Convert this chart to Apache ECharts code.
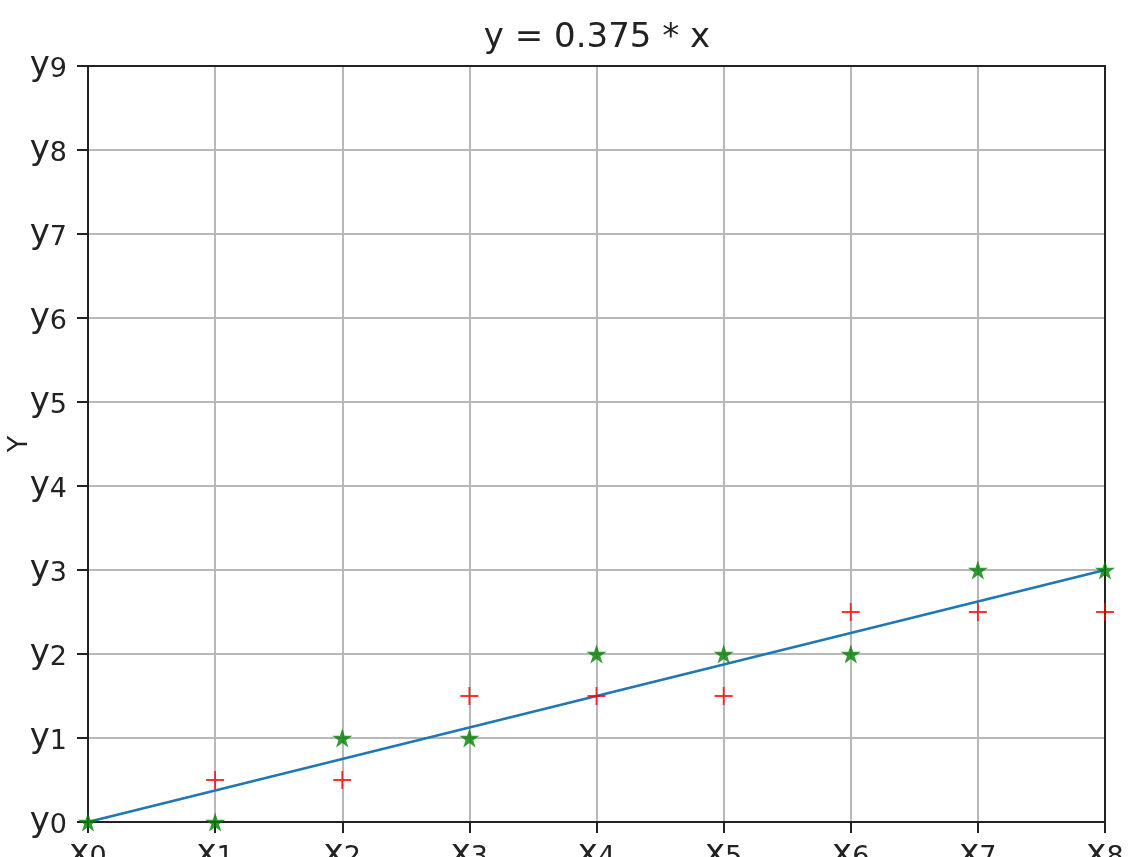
<!DOCTYPE html>
<html>
<head>
<meta charset="utf-8">
<script src="https://cdn.jsdelivr.net/npm/echarts@6/dist/echarts.min.js"></script>
<style>html,body{margin:0;padding:0;background:#fff}#c{width:1143px;height:857px}</style>
</head>
<body>
<div id="c"></div>
<script>
const titleText = 'y = 0.375 * x';
const xValues = [0, 1, 2, 3, 4, 5, 6, 7, 8];
const lineY = [0, 0.375, 0.75, 1.125, 1.5, 1.875, 2.25, 2.625, 3];
const greenX = [0, 1, 2, 3, 4, 5, 6, 7, 8];
const greenY = [0, 0, 1, 1, 2, 2, 2, 3, 3];
const redX = [1, 2, 3, 4, 5, 6, 7, 8];
const redY = [0.5, 0.5, 1.5, 1.5, 1.5, 2.5, 2.5, 2.5];
const xTickLabels = ['x0','x1','x2','x3','x4','x5','x6','x7','x8'];
const yTickLabels = ['y0','y1','y2','y3','y4','y5','y6','y7','y8','y9'];
const yAxisName = 'Y';

const starPath = 'path://M50,0 L61.23,34.55 L97.55,34.55 L68.17,55.9 L79.39,90.45 L50,69.1 L20.61,90.45 L31.83,55.9 L2.45,34.55 L38.77,34.55 Z';
const plusPath = 'path://M4.5,0h1v4.5h4.5v1h-4.5v4.5h-1v-4.5h-4.5v-1h4.5z';

function sub(label) {
  return '{a|' + label.charAt(0) + '}{b|' + label.slice(1) + '}';
}
const rich = {
  a: {fontSize: 34, lineHeight: 36, color: '#222', fontFamily: 'DejaVu Sans'},
  b: {fontSize: 27, lineHeight: 27, padding: [8, 0, 0, 0], color: '#222', fontFamily: 'DejaVu Sans'}
};

const axisLineStyle = {color: '#222', width: 2};

const chart = echarts.init(document.getElementById('c'), null, {renderer: 'canvas'});
chart.setOption({
  animation: false,
  backgroundColor: '#fff',
  title: {
    text: titleText, left: 592, textAlign: 'center', top: 16,
    textStyle: {fontSize: 34, fontWeight: 'normal', color: '#222', fontFamily: 'DejaVu Sans'}
  },
  grid: {
    left: 88, right: 38, top: 66, bottom: 35, containLabel: false, outerBoundsMode: 'none',
    show: false
  },
  xAxis: [{
    type: 'value', min: 0, max: 8, interval: 1, position: 'bottom',
    axisLine: {show: true, onZero: false, lineStyle: axisLineStyle},
    axisTick: {show: true, length: 11, lineStyle: axisLineStyle},
    splitLine: {show: true, lineStyle: {color: '#b8b8b8', width: 2}},
    axisLabel: {
      margin: 14, showMinLabel: true, showMaxLabel: true, hideOverlap: false,
      formatter: v => sub(xTickLabels[Math.round(v)] || ''), rich: rich
    }
  }, {
    type: 'value', min: 0, max: 8, interval: 1, position: 'top',
    axisLine: {show: true, onZero: false, lineStyle: axisLineStyle},
    axisTick: {show: false}, splitLine: {show: false}, axisLabel: {show: false}
  }],
  yAxis: [{
    type: 'value', min: 0, max: 9, interval: 1, position: 'left',
    name: yAxisName, nameLocation: 'middle', nameGap: 55, nameRotate: 90, nameMoveOverlap: false,
    nameTextStyle: {fontSize: 27, color: '#222', fontFamily: 'DejaVu Sans'},
    axisLine: {show: true, onZero: false, lineStyle: axisLineStyle},
    axisTick: {show: true, length: 11, lineStyle: axisLineStyle},
    splitLine: {show: true, lineStyle: {color: '#b8b8b8', width: 2}},
    axisLabel: {
      margin: 21, showMinLabel: true, showMaxLabel: true, hideOverlap: false,
      formatter: v => sub(yTickLabels[Math.round(v)] || ''), rich: rich
    }
  }, {
    type: 'value', min: 0, max: 9, interval: 1, position: 'right',
    axisLine: {show: true, onZero: false, lineStyle: axisLineStyle},
    axisTick: {show: false}, splitLine: {show: false}, axisLabel: {show: false}
  }],
  series: [
    {
      type: 'line', data: xValues.map((x, i) => [x, lineY[i]]),
      showSymbol: false, symbol: 'none', z: 3,
      lineStyle: {color: '#1f77b4', width: 2.5}
    },
    {
      type: 'scatter', data: greenX.map((x, i) => [x, greenY[i]]),
      symbol: starPath, symbolSize: 20, symbolKeepAspect: true, z: 4,
      itemStyle: {color: '#008000'}
    },
    {
      type: 'scatter', data: redX.map((x, i) => [x, redY[i]]),
      symbol: plusPath, symbolSize: 18, z: 5,
      itemStyle: {color: '#ff0000'}
    }
  ]
});
</script>
</body>
</html>
